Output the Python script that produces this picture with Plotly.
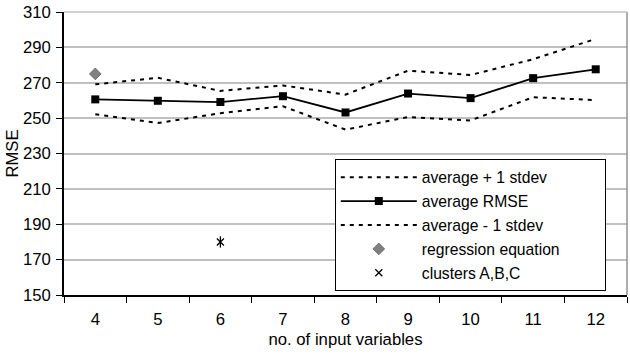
import plotly.graph_objects as go

categories = ["4", "5", "6", "7", "8", "9", "10", "11", "12"]
avg_plus = [269.1, 272.8, 265.4, 268.5, 263.3, 276.8, 274.4, 283.3, 294.8]
avg_rmse = [260.6, 259.8, 259.1, 262.4, 253.2, 263.9, 261.3, 272.6, 277.6]
avg_minus = [252.2, 247.2, 252.8, 256.7, 243.5, 250.6, 248.7, 261.8, 260.2]
regression_x = ["4"]
regression_y = [275]
clusters_x = ["6"]
clusters_y = [180]
y_ticks = [150, 170, 190, 210, 230, 250, 270, 290, 310]

FONT = "Liberation Sans, Arial, sans-serif"
TICK = 16.7
PAD = "\u00a0" * 9

fig = go.Figure()
fig.add_trace(go.Scatter(x=categories, y=avg_plus, mode="lines", name="average + 1 stdev",
                         line=dict(color="black", width=2, dash="4px,5px"), legendgroup="a"))
fig.add_trace(go.Scatter(x=categories, y=avg_rmse, mode="lines+markers", name="average RMSE",
                         line=dict(color="black", width=1.8),
                         marker=dict(symbol="square", size=8, color="black"), legendgroup="b"))
fig.add_trace(go.Scatter(x=categories, y=avg_minus, mode="lines", name="average - 1 stdev",
                         line=dict(color="black", width=2, dash="4px,5px"), legendgroup="c"))
fig.add_trace(go.Scatter(x=regression_x, y=regression_y, mode="markers",
                         name="regression equation" + PAD,
                         marker=dict(symbol="diamond", size=9, color="#808080",
                                     line=dict(color="#555555", width=0.7)), legendgroup="d"))
fig.add_trace(go.Scatter(x=clusters_x, y=clusters_y, mode="markers", name="clusters A,B,C",
                         marker=dict(symbol="x-thin-open", size=7, color="black",
                                     line=dict(color="black", width=1.3)), legendgroup="e"))
fig.add_trace(go.Scatter(x=clusters_x, y=clusters_y, mode="markers", showlegend=False,
                         marker=dict(symbol="line-ns-open", size=8, color="black",
                                     line=dict(color="black", width=1.3)), legendgroup="e"))

fig.update_layout(
    width=630, height=356,
    margin=dict(l=64, r=3, t=7, b=61),
    plot_bgcolor="white", paper_bgcolor="white",
    font=dict(family=FONT, size=TICK, color="black"),
    xaxis=dict(type="category", range=[-0.5, 8.5], showgrid=False,
               showline=True, linecolor="black", linewidth=1.5,
               ticks="outside", tickson="boundaries", ticklen=6, tickcolor="black",
               tickfont=dict(size=TICK), ticklabelstandoff=8,
               title=dict(text="no. of input variables", font=dict(size=TICK), standoff=6)),
    yaxis=dict(range=[150, 310], tickvals=y_ticks, showgrid=True, gridcolor="#c0c0c0",
               gridwidth=1.5, showline=True, linecolor="black", linewidth=1.5,
               ticks="outside", ticklen=6, tickcolor="black", tickfont=dict(size=TICK),
               ticklabeloverflow="allow", ticklabelstandoff=2,
               title=dict(text="RMSE", font=dict(size=TICK), standoff=0), zeroline=False),
    legend=dict(x=0.481, y=0.479, xanchor="left", yanchor="top",
                bgcolor="white", bordercolor="black", borderwidth=1,
                font=dict(size=15.7), tracegroupgap=0.5, itemwidth=76),
    showlegend=True,
)
# top and right border of plot area
fig.add_shape(type="line", xref="paper", yref="paper", x0=1, x1=1, y0=0, y1=1,
              line=dict(color="#909090", width=1.5))
fig.add_shape(type="line", xref="paper", yref="paper", x0=0, x1=1, y0=1, y1=1,
              line=dict(color="#c0c0c0", width=1.5))

fig.write_html("out.html")
